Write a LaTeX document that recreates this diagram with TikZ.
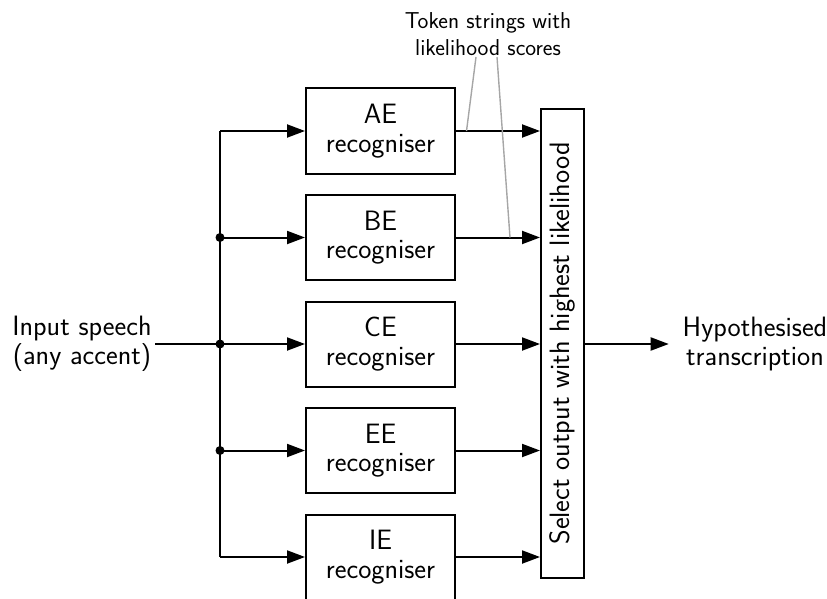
\documentclass[tikz,border=0pt]{standalone}
\usetikzlibrary{arrows.meta}
\begin{document}
\begin{tikzpicture}[x=1pt,y=-1pt,
  font=\sffamily\fontsize{28}{28.5}\selectfont,
  line width=2pt,
  recbox/.style={draw, minimum width=149pt, minimum height=85pt, inner sep=0pt, align=center, line width=2pt},
  arr/.style={-{Triangle[length=18pt,width=13pt]}},
  dot/.style={circle, fill, inner sep=0pt, minimum size=9pt},
  callout/.style={draw=gray!70, line width=1.4pt}]
\useasboundingbox (0,0) rectangle (827,599);
% recogniser boxes
\node[recbox] (AE) at (380.5,131) {AE\\recogniser};
\node[recbox] (BE) at (380.5,237.5) {BE\\recogniser};
\node[recbox] (CE) at (380.5,344) {CE\\recogniser};
\node[recbox] (EE) at (380.5,450.5) {EE\\recogniser};
\node[recbox] (IE) at (380.5,557) {IE\\recogniser};
% select box
\node[draw, minimum width=43pt, minimum height=469pt, inner sep=0pt, line width=2pt] (sel) at (562.5,343.5) {};
\node[rotate=90, inner sep=0pt] (seltext) at (sel.center) {Select output with highest likelihood};
% input and output texts
\node[align=center, inner sep=2.5pt] (in) at (82,344) {Input speech\\(any accent)};
\node[align=center, inner sep=0pt] (out) at (755,344) {Hypothesised\\transcription};
\node[align=center, inner sep=0pt, font=\sffamily\fontsize{23}{26.5}\selectfont] (tok) at (488,34) {Token strings with\\likelihood scores};
% bus
\coordinate (bus) at (220,0);
\coordinate (jA) at (AE.west -| bus);
\coordinate (jB) at (BE.west -| bus);
\coordinate (jC) at (CE.west -| bus);
\coordinate (jD) at (EE.west -| bus);
\coordinate (jI) at (IE.west -| bus);
\draw (jA) -- (jI);
\draw (in.east) -- (jC);
\foreach \b/\j in {AE/jA,BE/jB,CE/jC,EE/jD,IE/jI}{
  \draw[arr] (\j) -- (\b.west);
  \draw[arr] (\b.east) -- (\b.east -| sel.west);
}
\node[dot] (dB) at (jB) {};
\node[dot] (dC) at (jC) {};
\node[dot] (dD) at (jD) {};
% output
\draw[arr, shorten >=13pt] (CE.east -| sel.east) -- (out.west);
% callout lines
\coordinate (tA) at (476,57);
\coordinate (tB) at (497,57);
\coordinate (cA) at (466.5,131);
\coordinate (cB) at (510,237.5);
\draw[callout] (tA) -- (cA);
\draw[callout] (tB) -- (cB);
\end{tikzpicture}
\end{document}
